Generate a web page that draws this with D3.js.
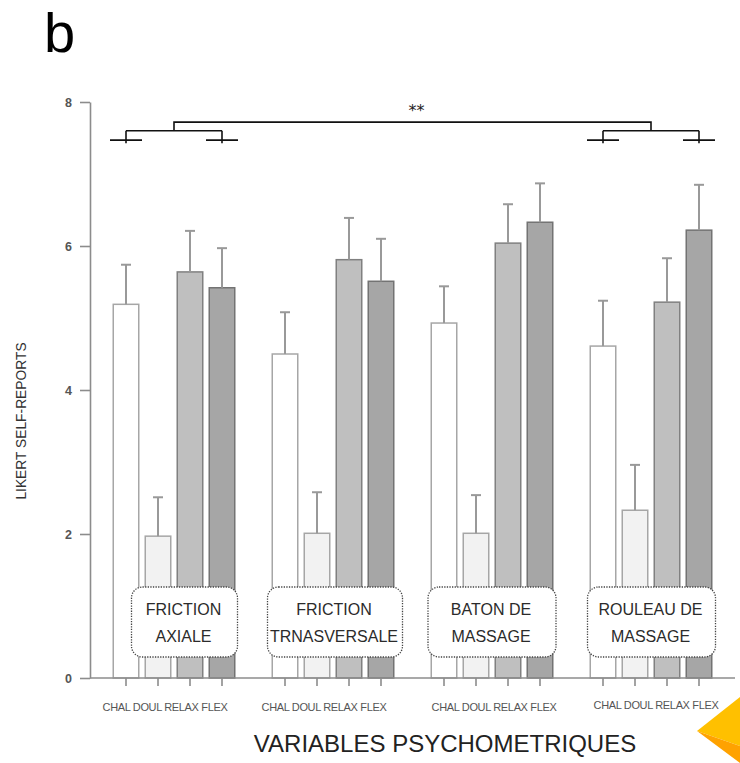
<!DOCTYPE html>
<html>
<head>
<meta charset="utf-8">
<script src="https://cdn.jsdelivr.net/npm/d3@7"></script>
<style>
  html, body { margin: 0; padding: 0; background: #ffffff; }
  svg { display: block; }
</style>
</head>
<body>
<svg id="chart" width="740" height="763"></svg>
<script>
// ---------------- data ----------------
const groupLines = [["FRICTION", "AXIALE"], ["FRICTION", "TRNASVERSALE"], ["BATON DE", "MASSAGE"], ["ROULEAU DE", "MASSAGE"]];
const groupIds = ["FA", "FT", "BM", "RM"];
const variables = ["CHAL", "DOUL", "RELAX", "FLEX"];
const chal = [5.19, 4.50, 4.93, 4.61];
const doul = [1.97, 2.01, 2.01, 2.33];
const relax = [5.64, 5.81, 6.04, 5.22];
const flex = [5.42, 5.51, 6.33, 6.22];
const chalErr = [0.55, 0.58, 0.51, 0.63];
const doulErr = [0.54, 0.57, 0.53, 0.63];
const relaxErr = [0.57, 0.58, 0.54, 0.61];
const flexErr = [0.55, 0.59, 0.54, 0.63];
const yTicks = [0, 2, 4, 6, 8];
const tickLabel = "CHAL DOUL RELAX FLEX";
const yTitle = "LIKERT SELF-REPORTS";
const xTitle = "VARIABLES PSYCHOMETRIQUES";
const panelLetter = "b";
const sigLabel = "**";
const bracketLevels = [7.47, 7.6, 7.72];

// ---------------- layout ----------------
(function () {
const svg = d3.select("#chart");
const pLeft = 90, pRight = 735, pTop = 102, pBottom = 678;
const fills = ["#ffffff", "#f2f2f2", "#bfbfbf", "#a6a6a6"];
const strokes = ["#a6a6a6", "#a6a6a6", "#808080", "#737373"];
const boxW = [106, 135, 128, 128];
const boxShift = [10.5, 2, 0, 0.5];
const labelShift = [-9, -9, 2, 5];
const labelDy = [0, 0, 0, -2];

const y = d3.scaleLinear().domain([0, 8]).range([pBottom, pTop]);
const xg = d3.scaleBand().domain(groupIds).range([pLeft, pRight]).paddingInner(0.2264).paddingOuter(0.1415);
const xv = d3.scaleBand().domain(variables).range([0, xg.bandwidth()]).paddingInner(0.156).paddingOuter(0);

const series = [chal, doul, relax, flex];
const errs = [chalErr, doulErr, relaxErr, flexErr];
const rows = [];
groupIds.forEach((g, gi) => variables.forEach((v, vi) => {
  rows.push({g, gi, v, vi, val: series[vi][gi], err: errs[vi][gi]});
}));

// decorative corner shape
svg.append("polygon").attr("points", "697,731 740,697 740,746").attr("fill", "#ffc000");
svg.append("polygon").attr("points", "697,731 740,746 740,763").attr("fill", "#ffa200");

// bars
const bx = d => xg(d.g) + xv(d.v);
svg.append("g").selectAll("rect").data(rows).join("rect")
  .attr("x", d => bx(d) + 0.75)
  .attr("y", d => y(d.val))
  .attr("width", xv.bandwidth() - 1.5)
  .attr("height", d => y(0) - y(d.val))
  .attr("fill", d => fills[d.vi])
  .attr("stroke", d => strokes[d.vi])
  .attr("stroke-width", 1.5);

// error bars
const eb = svg.append("g").attr("stroke", "#999").attr("stroke-width", 2);
rows.forEach(d => {
  const cx = bx(d) + xv.bandwidth() / 2;
  eb.append("line").attr("x1", cx).attr("x2", cx).attr("y1", y(d.val)).attr("y2", y(d.val + d.err));
  eb.append("line").attr("x1", cx - 5).attr("x2", cx + 5).attr("y1", y(d.val + d.err)).attr("y2", y(d.val + d.err));
});

// label boxes
groupIds.forEach((g, gi) => {
  const cx = xg(g) + xg.bandwidth() / 2 + boxShift[gi];
  const w = boxW[gi];
  svg.append("rect")
    .attr("x", cx - w / 2).attr("y", 587).attr("width", w).attr("height", 70)
    .attr("rx", 11).attr("ry", 11)
    .attr("fill", "#ffffff").attr("stroke", "#444").attr("stroke-width", 1.3)
    .attr("stroke-dasharray", "1.3,1.3");
  groupLines[gi].forEach((t, li) => {
    svg.append("text").attr("x", cx - 1).attr("y", 615 + li * 27)
      .attr("text-anchor", "middle")
      .attr("font-family", "Liberation Sans, Arial, sans-serif")
      .attr("font-size", 16).attr("fill", "#2b2b2b").text(t);
  });
});

// y axis
const yAxis = svg.append("g").attr("transform", `translate(${pLeft},0)`)
  .call(d3.axisLeft(y).tickValues(yTicks).tickSize(10).tickPadding(8).tickSizeOuter(0));
yAxis.select(".domain").attr("stroke", "#8c8c8c").attr("stroke-width", 1.6);
yAxis.selectAll(".tick line").attr("stroke", "#8c8c8c").attr("stroke-width", 1.6);
yAxis.selectAll(".tick text").attr("font-family", "Liberation Sans, Arial, sans-serif")
  .attr("font-size", 12.5).attr("font-weight", "bold").attr("fill", "#555");

// x axis baseline
svg.append("line").attr("x1", pLeft).attr("x2", pRight).attr("y1", y(0)).attr("y2", y(0))
  .attr("stroke", "#8c8c8c").attr("stroke-width", 1.6);
// x ticks at bar centers
svg.append("g").selectAll("line").data(rows).join("line")
  .attr("x1", d => bx(d) + xv.bandwidth() / 2).attr("x2", d => bx(d) + xv.bandwidth() / 2)
  .attr("y1", y(0)).attr("y2", y(0) + 8)
  .attr("stroke", "#8c8c8c").attr("stroke-width", 1.6);
// x tick labels
groupIds.forEach((g, gi) => {
  svg.append("text")
    .attr("x", xg(g) + xg.bandwidth() / 2 + labelShift[gi]).attr("y", 711 + labelDy[gi])
    .attr("text-anchor", "middle")
    .attr("font-family", "Liberation Sans, Arial, sans-serif")
    .attr("font-size", 11).attr("letter-spacing", -0.35).attr("fill", "#555").text(tickLabel);
});

// significance brackets
const br = svg.append("g").attr("stroke", "#111").attr("stroke-width", 1.6).attr("fill", "none");
const half = xv.step() / 2;
const cOf = (g, v) => xg(g) + xv(v) + xv.bandwidth() / 2;
[groupIds[0], groupIds[3]].forEach(g => {
  const a = cOf(g, "CHAL"), b = cOf(g, "FLEX");
  [a, b].forEach(c => {
    br.append("line").attr("x1", c - half).attr("x2", c + half).attr("y1", y(bracketLevels[0])).attr("y2", y(bracketLevels[0]));
    br.append("line").attr("x1", c).attr("x2", c).attr("y1", y(bracketLevels[0]) + 3).attr("y2", y(bracketLevels[1]));
  });
  br.append("line").attr("x1", a).attr("x2", b).attr("y1", y(bracketLevels[1])).attr("y2", y(bracketLevels[1]));
});
const gl = xg(groupIds[0]) + xg.bandwidth() / 2, gr = xg(groupIds[3]) + xg.bandwidth() / 2;
br.append("path").attr("d", `M${gl},${y(bracketLevels[1])}V${y(bracketLevels[2])}H${gr}V${y(bracketLevels[1])}`);
svg.append("text").attr("x", (gl + gr) / 2 + 4).attr("y", 116)
  .attr("text-anchor", "middle").attr("font-family", "DejaVu Sans, sans-serif")
  .attr("font-size", 16).attr("fill", "#222").text(sigLabel);

// titles
svg.append("text").attr("transform", "translate(26,421) rotate(-90)")
  .attr("text-anchor", "middle").attr("font-family", "Liberation Sans, Arial, sans-serif")
  .attr("font-size", 13.8).attr("fill", "#333").text(yTitle);
svg.append("text").attr("x", 445).attr("y", 752).attr("text-anchor", "middle")
  .attr("font-family", "Liberation Sans, Arial, sans-serif")
  .attr("font-size", 24).attr("fill", "#222").text(xTitle);
svg.append("text").attr("x", 44).attr("y", 52)
  .attr("font-family", "Liberation Sans, Arial, sans-serif")
  .attr("font-size", 56).attr("fill", "#000").text(panelLetter);
})();
</script>
</body>
</html>
